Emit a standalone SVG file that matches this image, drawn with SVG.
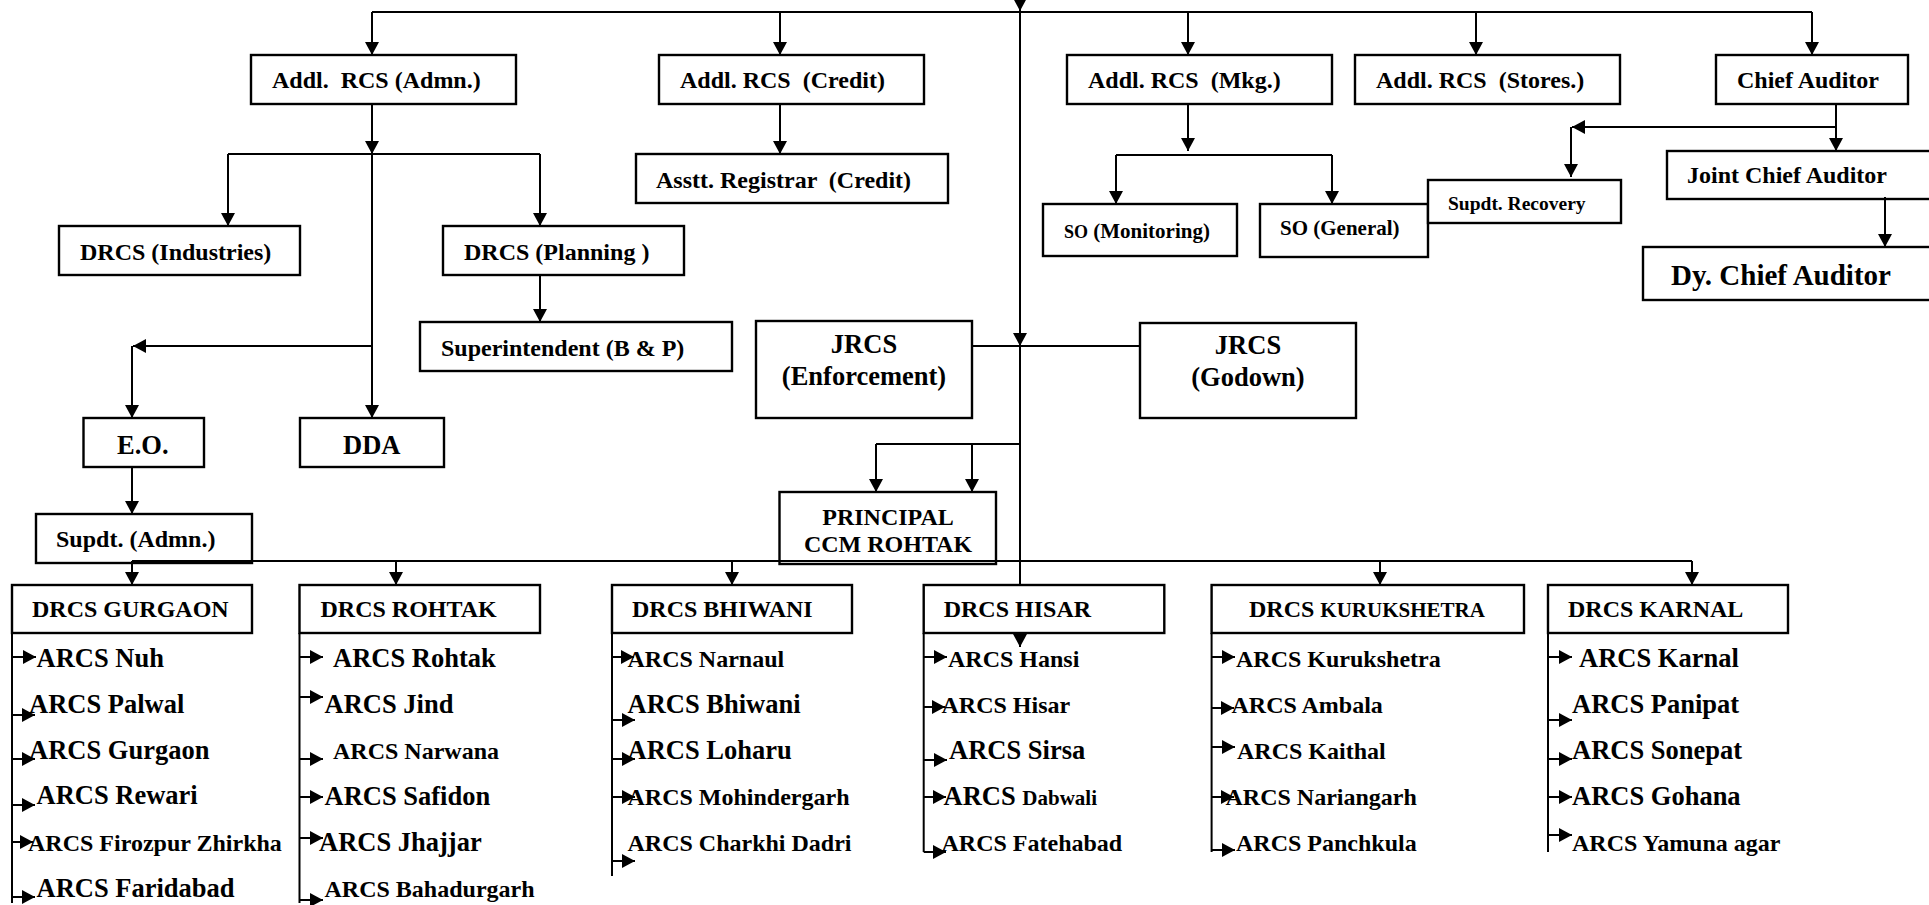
<svg xmlns="http://www.w3.org/2000/svg" width="1929" height="905" viewBox="0 0 1929 905">
<style>
text{font-family:"Liberation Serif","Times New Roman",serif;font-weight:bold;fill:#000}
.b{fill:#fff;stroke:#000;stroke-width:2.4}
.c line,.c path{stroke:#000;stroke-width:2;fill:none}
.m{marker-end:url(#a)}
.s24{font-size:24px}
.s26{font-size:26.5px}
.s21{font-size:21px}
.s20{font-size:19.5px}
.s29{font-size:29px}
.mid{text-anchor:middle}
</style>
<defs>
<marker id="a" viewBox="0 0 13 14" refX="13" refY="7" markerWidth="13" markerHeight="14" markerUnits="userSpaceOnUse" orient="auto"><path d="M0,0 L13,7 L0,14 z" fill="#000"/></marker>
</defs>
<rect width="1929" height="905" fill="#fff"/>

<g id="addl-admn"><rect class="b" x="251" y="55" width="265" height="49"/><text class="s24" x="272" y="88" xml:space="preserve">Addl.  RCS (Admn.)</text></g>
<g id="addl-credit"><rect class="b" x="659" y="55" width="265" height="49"/><text class="s24" x="680" y="88" xml:space="preserve">Addl. RCS  (Credit)</text></g>
<g id="addl-mkg"><rect class="b" x="1067" y="55" width="265" height="49"/><text class="s24" x="1088" y="88" xml:space="preserve">Addl. RCS  (Mkg.)</text></g>
<g id="addl-stores"><rect class="b" x="1355" y="55" width="265" height="49"/><text class="s24" x="1376" y="88" xml:space="preserve">Addl. RCS  (Stores.)</text></g>
<g id="chief-auditor"><rect class="b" x="1716" y="55" width="192" height="49"/><text class="s24" x="1737" y="88">Chief Auditor</text></g>
<g id="asstt-registrar"><rect class="b" x="636" y="154" width="312" height="49"/><text class="s24" x="656" y="188" xml:space="preserve">Asstt. Registrar  (Credit)</text></g>
<g id="drcs-industries"><rect class="b" x="59" y="226" width="241" height="49"/><text class="s24" x="80" y="260">DRCS (Industries)</text></g>
<g id="drcs-planning"><rect class="b" x="443" y="226" width="241" height="49"/><text class="s24" x="464" y="260">DRCS (Planning )</text></g>
<g id="superintendent"><rect class="b" x="420" y="322" width="312" height="49"/><text class="s24" x="441" y="356">Superintendent (B &amp; P)</text></g>
<g id="jrcs-enf"><rect class="b" x="756" y="321" width="216" height="97"/><text class="s26 mid" x="864" y="353">JRCS</text><text class="s26 mid" x="864" y="385">(Enforcement)</text></g>
<g id="jrcs-godown"><rect class="b" x="1140" y="323" width="216" height="95"/><text class="s26 mid" x="1248" y="354">JRCS</text><text class="s26 mid" x="1248" y="386">(Godown)</text></g>
<g id="eo"><rect class="b" x="83.5" y="418" width="120.5" height="49"/><text class="s26" x="117" y="454">E.O.</text></g>
<g id="dda"><rect class="b" x="300" y="418" width="144" height="49"/><text class="s26" x="343" y="454">DDA</text></g>
<g id="supdt-admn"><rect class="b" x="36" y="514" width="216" height="49"/><text class="s24" x="56" y="547">Supdt. (Admn.)</text></g>
<g id="principal"><rect class="b" x="779.5" y="492" width="216.5" height="72"/><text class="s24 mid" x="888" y="525">PRINCIPAL</text><text class="s24 mid" x="888" y="552">CCM ROHTAK</text></g>
<g id="so-monitoring"><rect class="b" x="1043" y="204" width="194" height="52"/><text class="s21" x="1064" y="238"><tspan font-size="18">SO</tspan> (Monitoring)</text></g>
<g id="so-general"><rect class="b" x="1260" y="204" width="168" height="53"/><text class="s21" x="1280" y="235">SO (General)</text></g>
<g id="supdt-recovery"><rect class="b" x="1428" y="180" width="193" height="43"/><text class="s20" x="1448" y="210">Supdt. Recovery</text></g>
<g id="joint-chief"><rect class="b" x="1667" y="151" width="270" height="48"/><text class="s24" x="1687" y="183">Joint Chief Auditor</text></g>
<g id="dy-chief"><rect class="b" x="1643" y="247" width="294" height="53"/><text class="s29" x="1671" y="285">Dy. Chief Auditor</text></g>

<g id="drcs-gurgaon"><rect class="b" x="12" y="585" width="240" height="48"/><text class="s24" x="32" y="617">DRCS GURGAON</text>
<text class="s26" x="36.5" y="667">ARCS Nuh</text><text class="s26" x="29" y="713">ARCS Palwal</text><text class="s26" x="29" y="759">ARCS Gurgaon</text><text class="s26" x="36.5" y="804">ARCS Rewari</text><text class="s24" x="28" y="851">ARCS Firozpur Zhirkha</text><text class="s26" x="36.5" y="897">ARCS Faridabad</text></g>
<g id="drcs-rohtak"><rect class="b" x="299.5" y="585" width="240.5" height="48"/><text class="s24" x="320.5" y="617">DRCS ROHTAK</text>
<text class="s26" x="333" y="667">ARCS Rohtak</text><text class="s26" x="324.5" y="713">ARCS Jind</text><text class="s24" x="333" y="759">ARCS Narwana</text><text class="s26" x="324.5" y="805">ARCS Safidon</text><text class="s26" x="319" y="851">ARCS Jhajjar</text><text class="s24" x="324.5" y="897">ARCS Bahadurgarh</text></g>
<g id="drcs-bhiwani"><rect class="b" x="612" y="585" width="240" height="48"/><text class="s24" x="632" y="617">DRCS BHIWANI</text>
<text class="s24" x="627.5" y="667">ARCS Narnaul</text><text class="s26" x="627.5" y="713">ARCS Bhiwani</text><text class="s26" x="627.5" y="759">ARCS Loharu</text><text class="s24" x="627.5" y="805">ARCS Mohindergarh</text><text class="s24" x="627.5" y="851">ARCS Charkhi Dadri</text></g>
<g id="drcs-hisar"><rect class="b" x="923.7" y="585" width="240.6" height="48"/><text class="s24" x="943.7" y="617">DRCS HISAR</text>
<text class="s24" x="948" y="667">ARCS Hansi</text><text class="s24" x="941.5" y="713">ARCS Hisar</text><text class="s26" x="949" y="759">ARCS Sirsa</text><text class="s26" x="943.5" y="805">ARCS <tspan font-size="21">Dabwali</tspan></text><text class="s24" x="941.5" y="851">ARCS Fatehabad</text></g>
<g id="drcs-kurukshetra"><rect class="b" x="1211.6" y="585" width="312.4" height="48"/><text class="s24" x="1249" y="617">DRCS <tspan font-size="21">KURUKSHETRA</tspan></text>
<text class="s24" x="1236" y="667">ARCS Kurukshetra</text><text class="s24" x="1231.5" y="713">ARCS Ambala</text><text class="s24" x="1237" y="759">ARCS Kaithal</text><text class="s24" x="1225.5" y="805">ARCS Nariangarh</text><text class="s24" x="1236" y="851">ARCS Panchkula</text></g>
<g id="drcs-karnal"><rect class="b" x="1548" y="585" width="240" height="48"/><text class="s24" x="1568" y="617">DRCS KARNAL</text>
<text class="s26" x="1579" y="667">ARCS Karnal</text><text class="s26" x="1572" y="713">ARCS Panipat</text><text class="s26" x="1572" y="759">ARCS Sonepat</text><text class="s26" x="1572" y="805">ARCS Gohana</text><text class="s24" x="1572" y="851">ARCS Yamuna agar</text></g>

<g id="connectors" class="c">
<line x1="372" y1="12" x2="1812" y2="12"/>
<line class="m" x1="1020" y1="-4" x2="1020" y2="11"/>
<line class="m" x1="1020" y1="11" x2="1020" y2="346"/>
<line x1="1020" y1="346" x2="1020" y2="585"/>
<line class="m" x1="372" y1="12" x2="372" y2="55"/>
<line class="m" x1="780" y1="12" x2="780" y2="55"/>
<line class="m" x1="1188" y1="12" x2="1188" y2="55"/>
<line class="m" x1="1476" y1="12" x2="1476" y2="55"/>
<line class="m" x1="1812" y1="12" x2="1812" y2="55"/>
<line class="m" x1="372" y1="104" x2="372" y2="154"/>
<line x1="228" y1="154" x2="540" y2="154"/>
<line class="m" x1="228" y1="154" x2="228" y2="226"/>
<line class="m" x1="540" y1="154" x2="540" y2="226"/>
<line class="m" x1="372" y1="154" x2="372" y2="418"/>
<line class="m" x1="372" y1="346" x2="133" y2="346"/>
<line class="m" x1="132" y1="346" x2="132" y2="418"/>
<line class="m" x1="132" y1="467" x2="132" y2="514"/>
<line class="m" x1="540" y1="275" x2="540" y2="322"/>
<line class="m" x1="780" y1="104" x2="780" y2="154"/>
<line class="m" x1="1188" y1="104" x2="1188" y2="151"/>
<line x1="1116" y1="155" x2="1332" y2="155"/>
<line class="m" x1="1116" y1="155" x2="1116" y2="204"/>
<line class="m" x1="1332" y1="155" x2="1332" y2="204"/>
<line class="m" x1="1836" y1="104" x2="1836" y2="151"/>
<line class="m" x1="1836" y1="127" x2="1572" y2="127"/>
<line class="m" x1="1571" y1="127" x2="1571" y2="177"/>
<line class="m" x1="1885" y1="197" x2="1885" y2="247"/>
<line x1="972" y1="346" x2="1140" y2="346"/>
<line x1="876" y1="444" x2="1020" y2="444"/>
<line class="m" x1="876" y1="444" x2="876" y2="492"/>
<line class="m" x1="972" y1="444" x2="972" y2="492"/>
<line x1="132" y1="561" x2="1692" y2="561"/>
<line class="m" x1="132" y1="561" x2="132" y2="585"/>
<line class="m" x1="396" y1="561" x2="396" y2="585"/>
<line class="m" x1="732" y1="561" x2="732" y2="585"/>
<line class="m" x1="1380" y1="561" x2="1380" y2="585"/>
<line class="m" x1="1692" y1="561" x2="1692" y2="585"/>
<line class="m" x1="1020" y1="632" x2="1020" y2="647"/>
<line x1="12" y1="633" x2="12" y2="903"/>
<line class="m" x1="12" y1="657" x2="36" y2="657"/>
<line class="m" x1="12" y1="715" x2="35" y2="715"/>
<line class="m" x1="12" y1="759" x2="35" y2="759"/>
<line class="m" x1="12" y1="805" x2="35" y2="805"/>
<line class="m" x1="12" y1="842" x2="33" y2="842"/>
<line class="m" x1="12" y1="897" x2="35" y2="897"/>
<line x1="299.5" y1="633" x2="299.5" y2="903"/>
<line class="m" x1="299.5" y1="657" x2="323" y2="657"/>
<line class="m" x1="299.5" y1="697" x2="323" y2="697"/>
<line class="m" x1="299.5" y1="759" x2="323" y2="759"/>
<line class="m" x1="299.5" y1="797" x2="323" y2="797"/>
<line class="m" x1="299.5" y1="838" x2="323" y2="838"/>
<line class="m" x1="299.5" y1="900" x2="323" y2="900"/>
<line x1="612" y1="633" x2="612" y2="876"/>
<line class="m" x1="612" y1="657" x2="634" y2="657"/>
<line class="m" x1="612" y1="720" x2="635" y2="720"/>
<line class="m" x1="612" y1="759" x2="635" y2="759"/>
<line class="m" x1="612" y1="797" x2="635" y2="797"/>
<line class="m" x1="612" y1="861" x2="635" y2="861"/>
<line x1="923.7" y1="633" x2="923.7" y2="852"/>
<line class="m" x1="923.7" y1="657" x2="947" y2="657"/>
<line class="m" x1="923.7" y1="707" x2="945" y2="707"/>
<line class="m" x1="923.7" y1="760" x2="947" y2="760"/>
<line class="m" x1="923.7" y1="797" x2="946" y2="797"/>
<line class="m" x1="923.7" y1="852" x2="946" y2="852"/>
<line x1="1211.6" y1="633" x2="1211.6" y2="852"/>
<line class="m" x1="1211.6" y1="657" x2="1235" y2="657"/>
<line class="m" x1="1211.6" y1="708" x2="1234" y2="708"/>
<line class="m" x1="1211.6" y1="747" x2="1235" y2="747"/>
<line class="m" x1="1211.6" y1="797" x2="1234" y2="797"/>
<line class="m" x1="1211.6" y1="850" x2="1235" y2="850"/>
<line x1="1548" y1="633" x2="1548" y2="852"/>
<line class="m" x1="1548" y1="657" x2="1572" y2="657"/>
<line class="m" x1="1548" y1="720" x2="1572" y2="720"/>
<line class="m" x1="1548" y1="759" x2="1572" y2="759"/>
<line class="m" x1="1548" y1="797" x2="1572" y2="797"/>
<line class="m" x1="1548" y1="835" x2="1572" y2="835"/>
</g>
</svg>
